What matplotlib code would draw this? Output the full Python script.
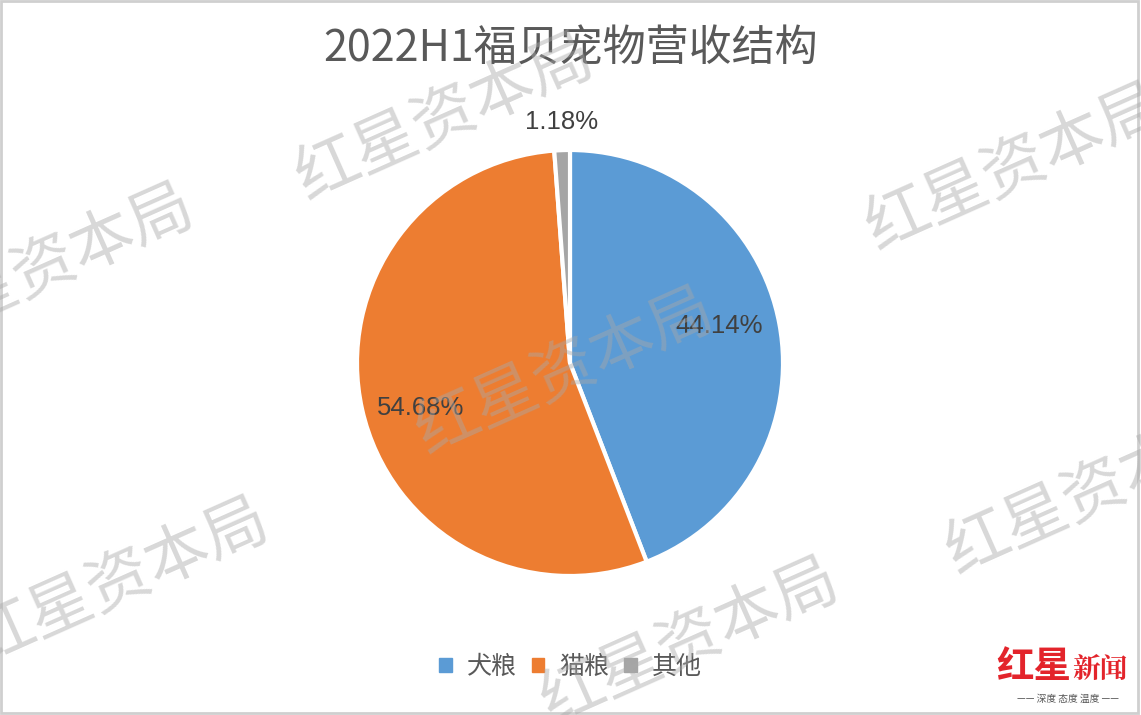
import numpy as np
import matplotlib.pyplot as plt
from matplotlib.patches import Rectangle

plt.rcParams['font.family'] = ['Noto Sans CJK SC', 'DejaVu Sans']

# data
categories = ['犬粮', '猫粮', '其他']
shares = [44.14, 54.68, 1.18]
colors = ['#5B9BD5', '#ED7D31', '#A5A5A5']
title = '2022H1福贝宠物营收结构'

fig = plt.figure(figsize=(11.41, 7.15), dpi=100)
fig.patch.set_facecolor('white')

# pie axes: center ~ (570, 363), radius ~213 px
r_px = 213
ax = fig.add_axes([(570 - r_px) / 1141, 1 - (363 + r_px) / 715,
                   2 * r_px / 1141, 2 * r_px / 715])
wedges, _ = ax.pie(shares, colors=colors, startangle=90, counterclock=False,
                   wedgeprops=dict(edgecolor='white', linewidth=3))
ax.set_aspect('equal')
ax.set_xlim(-1, 1)
ax.set_ylim(-1, 1)

# percentage labels
label_dist = [0.72, 0.73, 1.13]
label_shift = [3.5, 4.0, 0.0]
for w, v, d, s in zip(wedges, shares, label_dist, label_shift):
    mid = np.deg2rad((w.theta1 + w.theta2) / 2 + s)
    ax.text(d * np.cos(mid), d * np.sin(mid), f'{v:.2f}%', ha='center',
            va='center', fontsize=18.5, color='#404040', family=['Liberation Sans', 'DejaVu Sans'],
            clip_on=False, zorder=5)

fig.text(0.5, 1 - 50 / 715, title, ha='center', va='center', fontsize=31,
         color='#595959')

# legend
handles = [Rectangle((0, 0), 1, 1, color=c) for c in colors]
fig.legend(handles, categories, loc='center', bbox_to_anchor=(0.5, 1 - 667 / 715),
           ncol=3, frameon=False, fontsize=18, handlelength=0.5, handleheight=0.5,
           handletextpad=0.6, columnspacing=0.6, labelcolor='#595959')

# watermarks (cut off at the edges as in the original)
marks = [(445, 118), (45, 268), (1015, 168), (565, 372), (120, 582), (1095, 492), (690, 642)]
for x, y in marks:
    fig.text(x / 1141, 1 - y / 715, '红星资本局', ha='center', va='center',
             fontsize=46, color='#a8a8a8', alpha=0.45, rotation=24,
             zorder=10)

# logo
fig.text(1071 / 1141, 1 - 667 / 715, '红星', ha='right', va='center', fontsize=27,
         color='#E3242B', fontweight='bold', style='italic')
fig.text(1072 / 1141, 1 - 670 / 715, '新闻', ha='left', va='center', fontsize=20,
         color='#E3242B', fontweight='bold', family=['Noto Serif CJK SC', 'Noto Sans CJK SC'])
fig.text(1068 / 1141, 1 - 699 / 715, '—— 深度 态度 温度 ——', ha='center', va='center',
         fontsize=7, color='#555555')

# border
fig.patches.append(Rectangle((0.001, 0.003), 0.996, 0.995, transform=fig.transFigure,
                             fill=False, edgecolor='#cfcfcf', linewidth=2))

fig.savefig('out.png', dpi=100)
